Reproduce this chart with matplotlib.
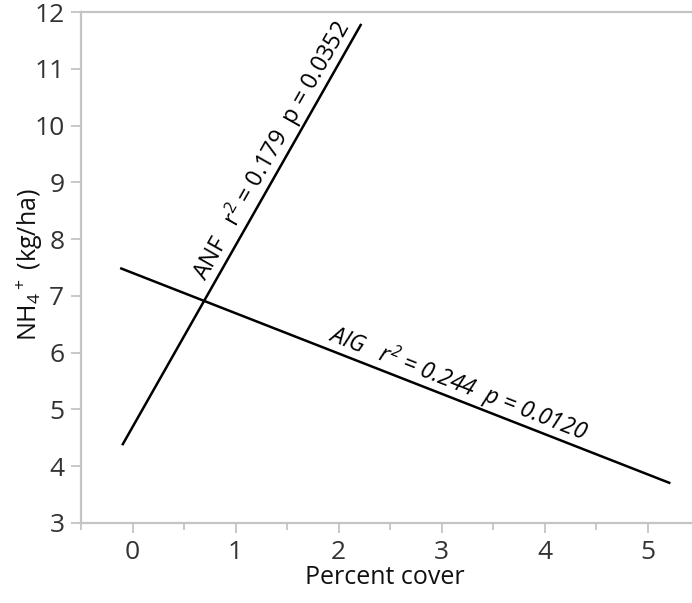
import numpy as np
import matplotlib
matplotlib.use("Agg")
import matplotlib.pyplot as plt
from matplotlib.ticker import MultipleLocator

# Data: fitted regression lines (endpoints)
anf_x = [-0.10, 2.22]
anf_y = [4.37, 11.79]
aig_x = [-0.12, 5.22]
aig_y = [7.49, 3.70]
anf_label = "ANF   r$^2$ = 0.179  p = 0.0352"
aig_label = "AIG   r$^2$ = 0.244  p = 0.0120"
x_ticks = [0, 1, 2, 3, 4, 5]
y_ticks = [3, 4, 5, 6, 7, 8, 9, 10, 11, 12]

plt.rcParams['font.family'] = ['Open Sans', 'DejaVu Sans']
plt.rcParams['mathtext.fontset'] = 'custom'
plt.rcParams['mathtext.rm'] = 'Open Sans'
plt.rcParams['mathtext.it'] = 'Open Sans:italic'
plt.rcParams['mathtext.default'] = 'regular'

W, H = 692, 603
fig = plt.figure(figsize=(W / 100, H / 100), dpi=100)
ax = fig.add_axes([81 / W, (H - 523) / H, (691 - 81) / W, (523 - 12) / H])

ax.plot(anf_x, anf_y, color='black', lw=1.8, solid_capstyle='butt')
ax.plot(aig_x, aig_y, color='black', lw=1.8, solid_capstyle='butt')

ax.set_xlim(-0.5, 5.42)
ax.set_ylim(3, 12)
ax.set_xticks(x_ticks)
ax.set_yticks(y_ticks)
ax.xaxis.set_minor_locator(MultipleLocator(0.5))

spine_c = '#c4c4c4'
ax.spines['right'].set_visible(False)
for s in ['left', 'bottom', 'top']:
    ax.spines[s].set_color(spine_c)
    ax.spines[s].set_linewidth(1.6)

ax.tick_params(axis='both', which='major', color=spine_c, width=1.3, length=7,
               labelsize=19, labelcolor='#333333', pad=5)
ax.tick_params(axis='x', which='minor', color=spine_c, width=1.3, length=5)
ax.tick_params(axis='y', which='minor', length=0)

ax.set_xlabel("Percent cover", fontsize=18, color='#111111')
ax.set_ylabel("NH$_4$$^+$ (kg/ha)", fontsize=18, color='#111111')
ax.xaxis.set_label_coords((385 - 81) / 610, -(578 - 523) / 511)
ax.yaxis.set_label_coords(-(81 - 30) / 610, (523 - 265) / 511)
ax.xaxis.label.set_va('center')
ax.yaxis.label.set_va('center')

fig.canvas.draw()

def angle_of(xs, ys):
    p = ax.transData.transform(np.column_stack([xs, ys]))
    return np.degrees(np.arctan2(p[1, 1] - p[0, 1], p[1, 0] - p[0, 0]))

def point_on(xs, ys, xv):
    return xv, ys[0] + (ys[1] - ys[0]) * (xv - xs[0]) / (xs[1] - xs[0])

a1 = angle_of(anf_x, anf_y)
x1, y1 = point_on(anf_x, anf_y, 1.48)
ax.text(x1, y1, anf_label, rotation=a1, rotation_mode='anchor', ha='center', va='bottom',
        fontsize=16.8, color='black')

a2 = angle_of(aig_x, aig_y)
x2, y2 = point_on(aig_x, aig_y, 3.10)
ax.text(x2, y2, aig_label, rotation=a2, rotation_mode='anchor', ha='center', va='bottom',
        fontsize=16.6, color='black', style='italic')

fig.savefig("out.png", dpi=100)
